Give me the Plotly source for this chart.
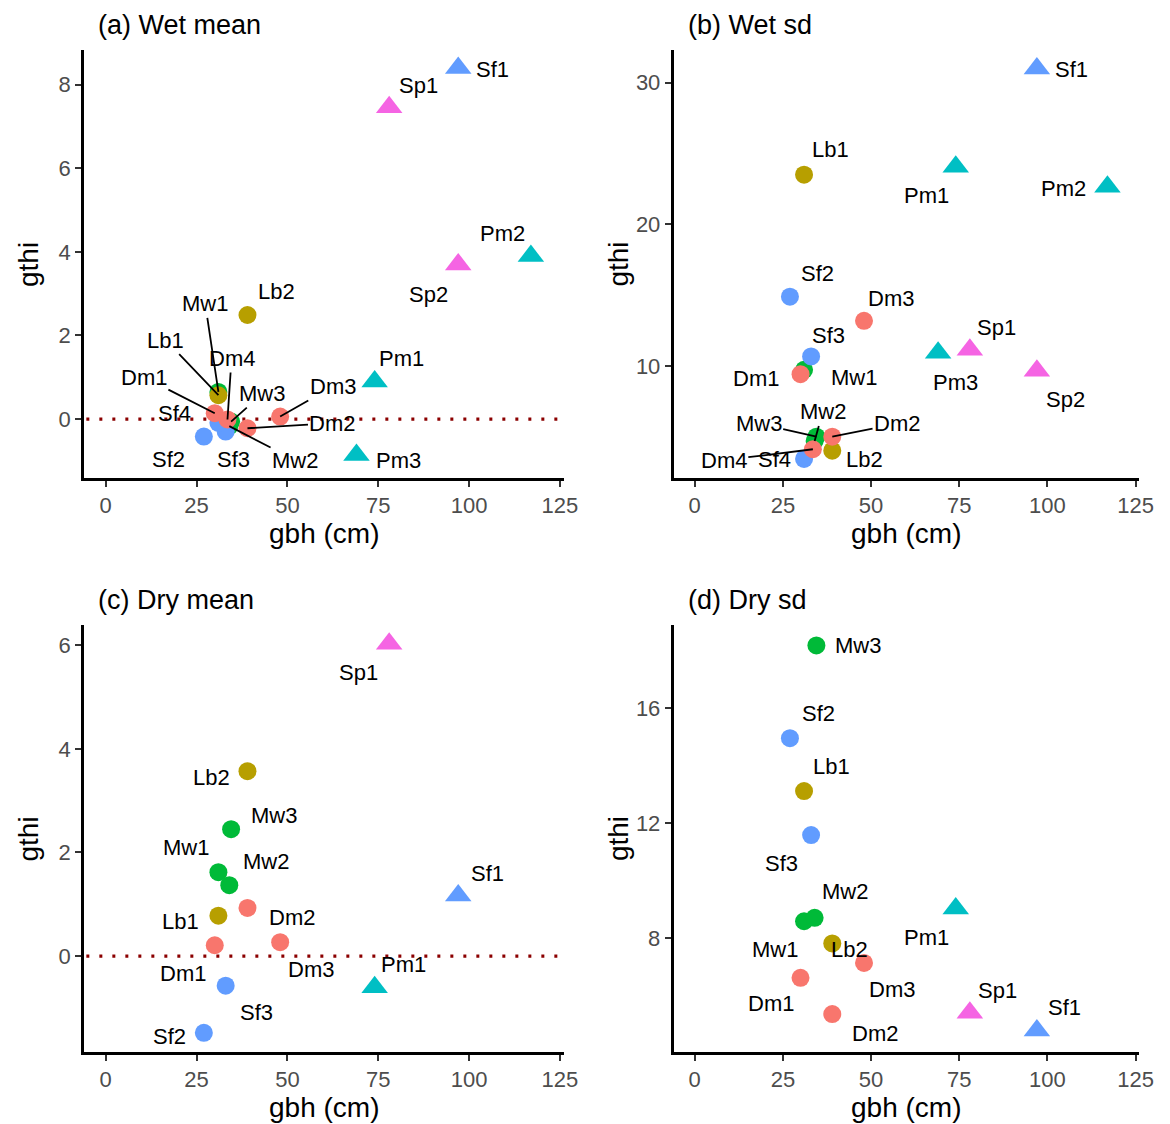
import plotly.graph_objects as go

# ---------------- data ----------------
trees = ["Dm1", "Dm2", "Dm3", "Dm4", "Lb1", "Lb2", "Mw1", "Mw2", "Mw3",
         "Pm1", "Pm2", "Pm3", "Sf1", "Sf2", "Sf3", "Sf4", "Sp1", "Sp2"]
gbh = [30, 39, 48, 33.5, 31, 39, 31, 34, 34.5,
       74, 117, 69, 97, 27, 33, 31, 78, 97]
triangle_trees = ["Pm1", "Pm2", "Pm3", "Sf1", "Sp1", "Sp2"]

wet_trees = trees
wet_mean = [0.14, -0.22, 0.06, -0.01, 0.57, 2.49, 0.65, -0.17, -0.06,
            0.90, 3.90, -0.86, 8.40, -0.42, -0.30, -0.09, 7.46, 3.70]
wet_sd = [9.41, 5.00, 13.18, 4.11, 23.5, 4.01, 9.72, 4.70, 5.00,
          24.06, 22.65, 10.92, 31.0, 14.88, 10.66, 3.43, 11.13, 9.65]

dry_trees = ["Dm1", "Dm2", "Dm3", "Lb1", "Lb2", "Mw1", "Mw2", "Mw3",
             "Pm1", "Sf1", "Sf2", "Sf3", "Sp1"]
dry_mean = [0.21, 0.93, 0.27, 0.78, 3.57, 1.62, 1.37, 2.45,
            -0.60, 1.17, -1.48, -0.57, 6.03]
dry_sd = [6.61, 5.35, 7.13, 13.11, 7.81, 8.58, 8.70, 18.18,
          9.02, 4.78, 14.95, 11.58, 5.40]

panel_titles = ["(a) Wet mean", "(b) Wet sd", "(c) Dry mean", "(d) Dry sd"]
x_ticks = [0, 25, 50, 75, 100, 125]
y_ticks = [[0, 2, 4, 6, 8], [10, 20, 30], [0, 2, 4, 6], [8, 12, 16]]

# ---------------- styling ----------------
group_colors = {"Dm": "#F8766D", "Lb": "#B79F00", "Mw": "#00BA38",
                "Pm": "#00BFC4", "Sf": "#619CFF", "Sp": "#F564E3"}
draw_order = ["Mw", "Sf", "Lb", "Pm", "Sp", "Dm"]
FONT = "Liberation Sans, Arial, Helvetica, sans-serif"
# observed page mapping: page_x = X_OFF + X_SCALE * fig_x ; page_y = Y_OFF + fig_y
X_OFF, X_SCALE, Y_OFF = 6, 0.988, 8
W, H = 1180, 1116

def px_x(p):
    return ((p - X_OFF) / X_SCALE) / W

def px_y(p):
    return 1 - (p - Y_OFF) / H

# plot areas in page pixels: (x0, x1, y0_top, y1_bottom)
areas = [(82, 562, 50, 478), (672, 1138, 50, 478),
         (82, 562, 625, 1052), (672, 1138, 625, 1052)]
y_ranges = [[-1.41, 8.83], [2.08, 32.3], [-1.85, 6.39], [4.03, 18.89]]
x_range = [-6, 126]

# label offsets in pixels (dx, dy, draw segment)
label_pos = [
    {"Sf1": (34, 2, 0), "Sp1": (29, -22, 0), "Pm2": (-28, -23, 0), "Sp2": (-29, 30, 0),
     "Lb2": (29, -23, 0), "Pm1": (27, -23, 0), "Pm3": (42, 5, 0), "Mw1": (-13, -88, 1),
     "Lb1": (-52, -55, 1), "Dm4": (4, -61, 1), "Dm1": (-70, -36, 1), "Sf4": (-43, -9, 0),
     "Mw3": (31, -28, 1), "Dm3": (52, -30, 1), "Dm2": (84, -5, 1), "Mw2": (65, 34, 1),
     "Sf2": (-35, 23, 0), "Sf3": (8, 28, 0)},
    {"Sf1": (34, 1, 0), "Lb1": (26, -25, 0), "Pm1": (-29, 29, 0), "Pm2": (-43, 2, 0),
     "Sf2": (27, -23, 0), "Dm3": (27, -22, 0), "Sf3": (17, -21, 0), "Sp1": (26, -22, 0),
     "Pm3": (17, 30, 0), "Sp2": (28, 29, 0), "Dm1": (-44, 4, 0), "Mw1": (49, 8, 0),
     "Mw3": (-57, -13, 1), "Mw2": (8, -29, 1), "Dm2": (64, -13, 1), "Dm4": (-88, 11, 1),
     "Sf4": (-29, 1, 0), "Lb2": (32, 9, 0)},
    {"Sp1": (-30, 29, 0), "Lb2": (-36, 6, 0), "Mw3": (42, -14, 0), "Mw1": (-32, -25, 0),
     "Mw2": (36, -24, 0), "Sf1": (29, -22, 0), "Dm2": (44, 10, 0), "Lb1": (-37, 6, 0),
     "Dm1": (-31, 28, 0), "Dm3": (30, 27, 0), "Pm1": (29, -23, 0), "Sf3": (30, 27, 0),
     "Sf2": (-34, 4, 0)},
    {"Mw3": (41, 0, 0), "Sf2": (28, -25, 0), "Lb1": (27, -25, 0), "Sf3": (-29, 28, 0),
     "Mw2": (30, -26, 0), "Pm1": (-29, 29, 0), "Mw1": (-29, 28, 0), "Lb2": (17, 6, 0),
     "Dm3": (28, 27, 0), "Dm1": (-29, 26, 0), "Sp1": (27, -22, 0), "Sf1": (27, -23, 0),
     "Dm2": (42, 19, 0)},
]

panels = [(wet_trees, wet_mean), (wet_trees, wet_sd),
          (dry_trees, dry_mean), (dry_trees, dry_sd)]
gbh_of = dict(zip(trees, gbh))

fig = go.Figure()
annotations = []
shapes = []
layout = {}

for i, (tnames, vals) in enumerate(panels):
    k = "" if i == 0 else str(i + 1)
    xa, ya = "x" + k, "y" + k
    x0, x1, yt, yb = areas[i]
    axis_common = dict(
        showline=True, linecolor="black", linewidth=2.5,
        ticks="outside", ticklen=6, tickwidth=2, tickcolor="#333333",
        tickfont=dict(family=FONT, size=22, color="#4D4D4D"),
        showgrid=False, zeroline=False)
    layout["xaxis" + k] = dict(
        domain=[px_x(x0), px_x(x1)], anchor=ya, range=x_range,
        tickmode="array", tickvals=x_ticks, ticktext=[str(t) for t in x_ticks],
        **axis_common)
    layout["yaxis" + k] = dict(
        domain=[px_y(yb), px_y(yt)], anchor=xa, range=y_ranges[i],
        tickmode="array", tickvals=y_ticks[i], ticktext=[str(t) for t in y_ticks[i]],
        **axis_common)

    order = sorted(range(len(tnames)), key=lambda j: draw_order.index(tnames[j][:2]))
    xs = [gbh_of[tnames[j]] for j in order]
    ys = [vals[j] for j in order]
    cols = [group_colors[tnames[j][:2]] for j in order]
    syms = ["triangle-up" if tnames[j] in triangle_trees else "circle" for j in order]
    sizes = [23 if s == "triangle-up" else 18 for s in syms]
    fig.add_trace(go.Scatter(
        x=xs, y=ys, mode="markers", xaxis=xa, yaxis=ya,
        marker=dict(color=cols, symbol=syms, size=sizes, opacity=1, line=dict(width=0)),
        text=[tnames[j] for j in order], showlegend=False, hoverinfo="text+x+y"))

    # zero reference line for mean panels
    if i in (0, 2):
        shapes.append(dict(type="line", xref=xa + " domain", yref=ya,
                           x0=0.005, x1=1, y0=0, y1=0, layer="below",
                           line=dict(color="#8B0000", width=3.2, dash="3px,10px")))

    # point labels
    for j, t in enumerate(tnames):
        dx, dy, seg = label_pos[i][t]
        base = dict(x=gbh_of[t], y=vals[j], xref=xa, yref=ya, text=t,
                    font=dict(family=FONT, size=22, color="black"))
        if seg:
            base.update(showarrow=True, ax=dx / X_SCALE, ay=dy, arrowhead=0,
                        arrowwidth=1.8, arrowcolor="black", standoff=0, startstandoff=0)
        else:
            base.update(showarrow=False, xshift=dx / X_SCALE, yshift=-dy)
        annotations.append(base)

    # panel title (kept fully inside the figure)
    annotations.append(dict(text=panel_titles[i], xref="paper", yref="paper",
                            x=px_x(x0 + 12), y=min(1.0, px_y(yt - 42)),
                            xanchor="left", yanchor="top", showarrow=False,
                            font=dict(family=FONT, size=27, color="black")))
    # axis titles
    annotations.append(dict(text="gbh (cm)", xref="paper", yref="paper",
                            x=px_x((x0 + x1) / 2), y=px_y(yb + 55),
                            xanchor="center", yanchor="middle", showarrow=False,
                            font=dict(family=FONT, size=28, color="black")))
    annotations.append(dict(text="gthi", xref="paper", yref="paper",
                            x=px_x(x0 - 55), y=px_y((yt + yb) / 2), textangle=-90,
                            xanchor="center", yanchor="middle", showarrow=False,
                            font=dict(family=FONT, size=28, color="black")))

fig.update_layout(
    width=W, height=H, margin=dict(l=0, r=0, t=0, b=0),
    paper_bgcolor="white", plot_bgcolor="white",
    annotations=annotations, shapes=shapes, **layout)

fig.write_html("out.html")
